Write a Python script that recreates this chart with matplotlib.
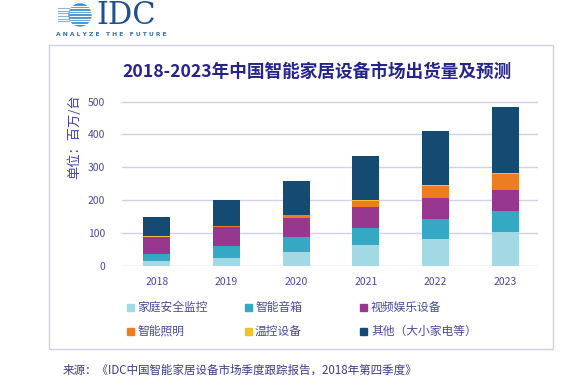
import numpy as np
import matplotlib
matplotlib.use("Agg")
import matplotlib.pyplot as plt
from matplotlib.patches import Rectangle, Circle

plt.rcParams['font.family'] = ['Noto Sans CJK SC', 'DejaVu Sans']

# data (million units)
years = ['2018', '2019', '2020', '2021', '2022', '2023']
series_names = ['家庭安全监控', '智能音箱', '视频娱乐设备', '智能照明', '温控设备', '其他（大小家电等）']
home_security = [15, 22, 41, 62, 82, 103]
speaker = [20, 38, 45, 52, 59, 65]
video = [53, 57, 58, 64, 64, 63]
lighting = [1, 4, 11, 19, 39, 50]
thermostat = [0.5, 1, 1, 2, 2, 2]
other = [59, 78, 101, 135, 166, 200]
yticks = [0, 100, 200, 300, 400, 500]

series = [home_security, speaker, video, lighting, thermostat, other]
colors = ['#a3d9e5', '#35a8c3', '#98378f', '#ee7d22', '#f2c12e', '#154a73']

W, H = 577, 379
fig = plt.figure(figsize=(W/100, H/100), dpi=100)
fig.patch.set_facecolor('white')

# outer frame
fig.patches.append(Rectangle((49/W, 1-349/H), (553-49)/W, (349-45)/H,
                             transform=fig.transFigure, fill=False,
                             edgecolor='#cfcfe8', linewidth=1))

# IDC logo (rough) - pixel coords axes
lax = fig.add_axes([0, 0, 1, 1], zorder=-1)
lax.set_xlim(0, W)
lax.set_ylim(H, 0)
lax.axis('off')
lax.add_patch(Circle((80, 15), 11, color='#3b8bcc'))
for yy in np.arange(5.5, 26, 2.6):
    lax.plot([58, 93], [yy, yy], color='white', lw=0.9)
for yy in np.arange(5.5, 26, 2.6)[1:-1]:
    lax.plot([58, 69], [yy, yy], color='#8fb3d6', lw=0.8)
fig.text(96/W, 1-16/H, 'IDC', family='DejaVu Serif', fontsize=22,
         color='#1f4f8f', va='center', ha='left')
fig.text(111/W, 1-35/H, 'A N A L Y Z E   T H E   F U T U R E', fontsize=4.3,
         color='#3a6fa8', ha='center', va='center', family='DejaVu Sans',
         fontweight='bold')

# title
fig.text(317/W, 1-72/H, '2018-2023年中国智能家居设备市场出货量及预测',
         fontsize=12.7, fontweight='bold', color='#24248c', ha='center', va='center')

ax = fig.add_axes([122/W, 1-265.7/H, (538-122)/W, (265.7-98.4)/H])
x = np.arange(len(years))
bottom = np.zeros(len(years))
for vals, c, name in zip(series, colors, series_names):
    ax.bar(x, vals, width=0.39, bottom=bottom, color=c, label=name, zorder=3)
    bottom += np.array(vals)

ax.set_xlim(-0.5, 5.47)
ax.set_ylim(0, 510)
ax.set_yticks(yticks)
ax.set_xticks(x)
ax.set_xticklabels(years)
ax.grid(axis='y', color='#d0d0ec', linewidth=1, zorder=0)
for s in ax.spines.values():
    s.set_visible(False)
ax.tick_params(length=0, colors='#4a4a9c', labelsize=7.5)
ax.tick_params(axis='y', pad=12)
ax.tick_params(axis='x', pad=8)

fig.text(75/W, 1-137/H, '单位：百万/台', rotation=90, fontsize=9.5,
         color='#4040a8', ha='center', va='center')

# legend, 3 columns x 2 rows
col_x = [130, 248, 364]
row_y = [307, 331]
for i, (name, c) in enumerate(zip(series_names, colors)):
    cx = col_x[i % 3]
    cy = row_y[i // 3]
    fig.patches.append(Rectangle(((cx - 3.5)/W, 1-(cy + 3.5)/H), 7/W, 7/H,
                                 transform=fig.transFigure, color=c))
    fig.text((cx + 7)/W, 1-cy/H, name, fontsize=8.5, color='#4a4a9c',
             ha='left', va='center')

fig.text(63/W, 1-370/H, '来源：《IDC中国智能家居设备市场季度跟踪报告，2018年第四季度》',
         fontsize=8.3, color='#3a3a8a', ha='left', va='center')

fig.savefig('out.png', dpi=100)
